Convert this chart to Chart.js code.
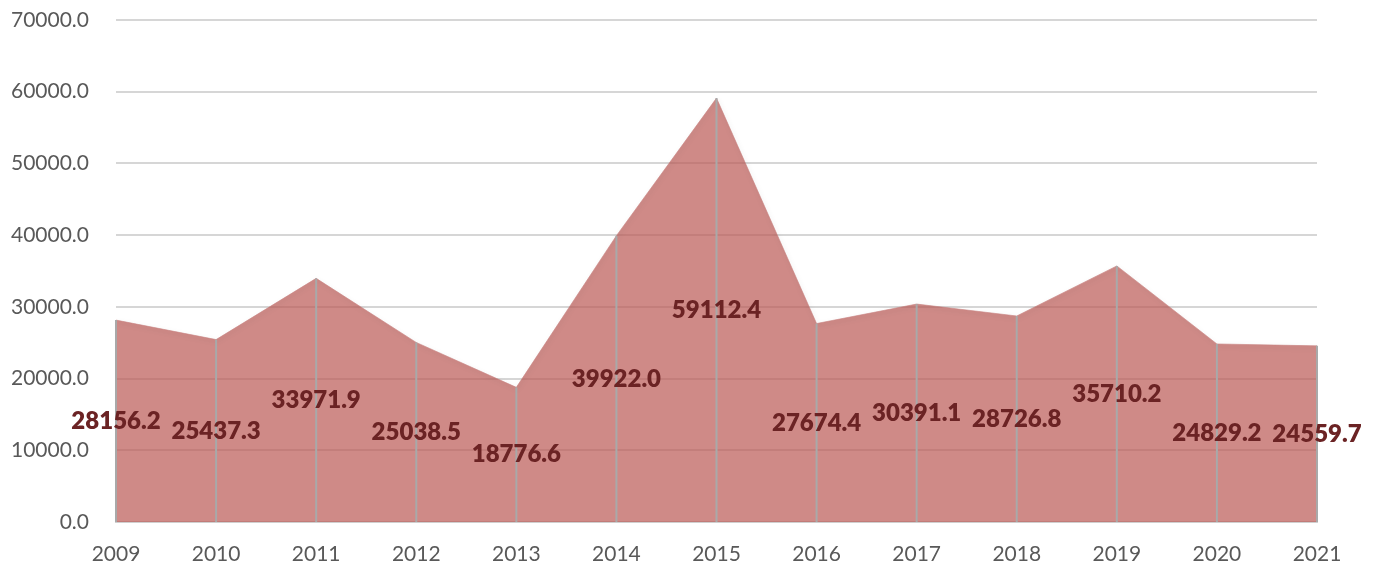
<!DOCTYPE html>
<html>
<head>
<meta charset="utf-8">
<script src="https://cdn.jsdelivr.net/npm/chart.js@4"></script>
<style>
html,body{margin:0;padding:0;background:#fff;}
#wrap{width:1373px;height:565px;position:relative;}
</style>
</head>
<body>
<div id="wrap"><canvas id="c" width="1373" height="565"></canvas></div>
<script>
const years = ['2009','2010','2011','2012','2013','2014','2015','2016','2017','2018','2019','2020','2021'];
const values = [28156.2, 25437.3, 33971.9, 25038.5, 18776.6, 39922.0, 59112.4, 27674.4, 30391.1, 28726.8, 35710.2, 24829.2, 24559.7];
const yTicks = [0, 10000, 20000, 30000, 40000, 50000, 60000, 70000];

const dropLines = {
  id: 'dropLines',
  afterDatasetsDraw(chart) {
    const ctx = chart.ctx;
    const meta = chart.getDatasetMeta(0);
    const yScale = chart.scales.y;
    const base = yScale.getPixelForValue(0);
    ctx.save();
    ctx.strokeStyle = '#a9a9a9';
    ctx.lineWidth = 2;
    meta.data.forEach((pt) => {
      ctx.beginPath();
      ctx.moveTo(pt.x, pt.y);
      ctx.lineTo(pt.x, base);
      ctx.stroke();
    });
    ctx.fillStyle = '#6b2324';
    ctx.font = '800 24px Lato';
    ctx.textAlign = 'center';
    ctx.textBaseline = 'middle';
    meta.data.forEach((pt, i) => {
      const v = values[i];
      const y = yScale.getPixelForValue(v / 2);
      ctx.fillText(v.toFixed(1), pt.x, y);
    });
    ctx.restore();
  }
};

const shadow = {
  id: 'shadow',
  beforeDatasetDraw(chart) {
    const ctx = chart.ctx;
    ctx.save();
    ctx.shadowColor = 'rgba(0,0,0,0.25)';
    ctx.shadowBlur = 5;
    ctx.shadowOffsetX = 1;
    ctx.shadowOffsetY = 2;
  },
  afterDatasetDraw(chart) {
    chart.ctx.restore();
  }
};

new Chart(document.getElementById('c'), {
  type: 'line',
  data: {
    labels: years,
    datasets: [{
      data: values,
      fill: 'origin',
      backgroundColor: 'rgba(186,88,84,0.7)',
      borderColor: 'rgba(200,130,128,0.6)',
      borderWidth: 1,
      pointRadius: 0,
      tension: 0
    }]
  },
  options: {
    responsive: false,
    animation: false,
    devicePixelRatio: 1,
    layout: { padding: { top: 20, right: 56, left: 0, bottom: 0 } },
    plugins: { legend: { display: false }, tooltip: { enabled: false } },
    scales: {
      x: {
        offset: false,
        grid: { display: false, drawTicks: false },
        border: { display: true, color: '#d0d0d0', width: 2 },
        ticks: { color: '#595959', font: { family: 'Lato', size: 21 }, padding: 20, maxRotation: 0, autoSkip: false },
        afterFit(s) { s.height = 43; }
      },
      y: {
        min: 0, max: 70000,
        afterBuildTicks(s) { s.ticks = yTicks.map(v => ({ value: v })); },
        grid: { color: '#d6d6d6', lineWidth: 2, drawTicks: false },
        border: { display: false },
        ticks: {
          color: '#595959', font: { family: 'Lato', size: 21 }, padding: 27,
          callback: v => Number(v).toFixed(1)
        },
        afterFit(s) { s.width = 116; s.paddingTop = 0; s.paddingBottom = 0; }
      }
    }
  },
  plugins: [shadow, dropLines]
});
</script>
</body>
</html>
